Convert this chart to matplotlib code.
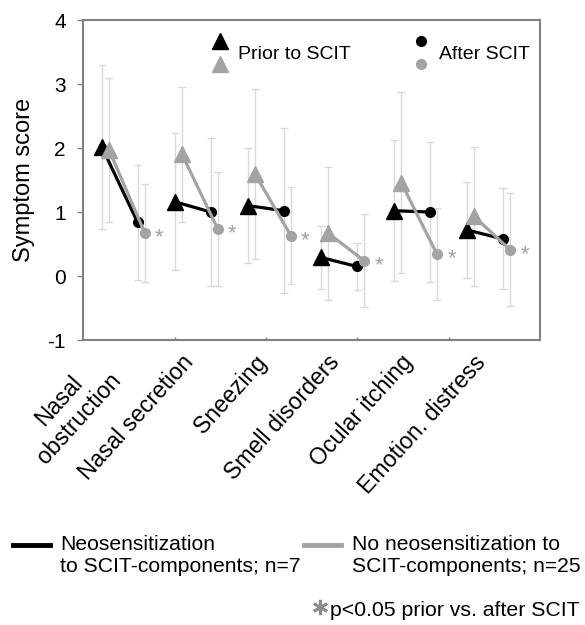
import matplotlib
matplotlib.use("Agg")
import matplotlib.pyplot as plt
import numpy as np
from matplotlib.lines import Line2D
from matplotlib.legend_handler import HandlerBase

plt.rcParams['font.family'] = ['Liberation Sans', 'DejaVu Sans']
plt.rcParams['axes.unicode_minus'] = False

categories = ["Nasal\nobstruction", "Nasal secretion", "Sneezing",
              "Smell disorders", "Ocular itching", "Emotion. distress"]

# neosensitization to SCIT components (n=7)
neo_prior = [2.02, 1.16, 1.10, 0.29, 1.02, 0.72]
neo_prior_sd = [1.28, 1.07, 0.90, 0.49, 1.10, 0.75]
neo_after = [0.84, 1.00, 1.02, 0.15, 1.00, 0.58]
neo_after_sd = [0.90, 1.15, 1.29, 0.37, 1.10, 0.79]

# no neosensitization (n=25)
non_prior = [1.97, 1.90, 1.59, 0.67, 1.46, 0.93]
non_prior_sd = [1.12, 1.05, 1.33, 1.04, 1.41, 1.08]
non_after = [0.67, 0.73, 0.63, 0.24, 0.34, 0.41]
non_after_sd = [0.77, 0.89, 0.76, 0.73, 0.72, 0.88]

significant = [True, True, True, True, True, True]

BLACK = "#000000"
GREY = "#a3a3a3"
ERR = "#d9d9d9"
SPINE = "#808080"
STAR = "#8c8c8c"


class StackedMarkers(HandlerBase):
    # two markers on top of each other, label centred between them
    def create_artists(self, legend, orig_handle, xdescent, ydescent,
                       width, height, fontsize, trans):
        top, bottom = orig_handle
        cx = width / 2 - xdescent
        cy = height / 2 - ydescent
        out = []
        for h, dy in ((top, 8), (bottom, -8)):
            m = Line2D([cx], [cy + dy], marker=h.get_marker(), ls="none",
                       color=h.get_color(), markersize=h.get_markersize(),
                       transform=trans)
            out.append(m)
        return out


class RaisedLine(HandlerBase):
    # line handle level with the first line of a two-line label
    def create_artists(self, legend, orig_handle, xdescent, ydescent,
                       width, height, fontsize, trans):
        y = height / 2 - ydescent + 8
        ln = Line2D([-xdescent, width - xdescent], [y, y],
                    color=orig_handle.get_color(),
                    lw=orig_handle.get_linewidth(), transform=trans)
        return [ln]


fig = plt.figure(figsize=(5.85, 6.25), dpi=100)
ax = fig.add_axes([0.142, 0.456, 0.781, 0.512])

x = np.arange(len(categories))
x_bt = x
x_gt = x + 0.10
x_bc = x + 0.49
x_gc = x + 0.59

# error bars first, behind everything
for xs, ys, es in ((x_bt, neo_prior, neo_prior_sd), (x_gt, non_prior, non_prior_sd),
                   (x_bc, neo_after, neo_after_sd), (x_gc, non_after, non_after_sd)):
    ax.errorbar(xs, ys, yerr=es, fmt="none", ecolor=ERR, elinewidth=1.0,
                capsize=2.8, capthick=1.0, zorder=1)

for i in range(len(categories)):
    ax.plot([x_bt[i], x_bc[i]], [neo_prior[i], neo_after[i]], color=BLACK, lw=2.3, zorder=2)
    ax.plot([x_gt[i], x_gc[i]], [non_prior[i], non_after[i]], color=GREY, lw=2.3, zorder=4)

ax.plot(x_bt, neo_prior, ls="none", marker="^", ms=11, color=BLACK, zorder=3)
ax.plot(x_bc, neo_after, ls="none", marker="o", ms=7, color=BLACK, zorder=3)
ax.plot(x_gt, non_prior, ls="none", marker="^", ms=11, color=GREY, zorder=5)
ax.plot(x_gc, non_after, ls="none", marker="o", ms=7, color=GREY, zorder=5)

for i, sig in enumerate(significant):
    if sig:
        ax.annotate("*", (x_gc[i], non_after[i]), xytext=(10.5, -3.5),
                    textcoords="offset points", color=GREY, fontsize=16,
                    ha="center", va="center")

ax.set_xlim(-0.256, 6.0)
ax.set_ylim(-1, 4)
ax.set_yticks([-1, 0, 1, 2, 3, 4])
ax.set_ylabel("Symptom score", fontsize=17, labelpad=9)
ax.tick_params(axis="y", labelsize=15, length=4, width=1, color=SPINE, pad=8.5)

ax.set_xticks(x + 0.32)
ax.set_xticklabels(categories, rotation=48, ha="right", fontsize=16.7,
                   multialignment="center")
ax.tick_params(axis="x", length=0, pad=8)
ax.set_xticks([1.0, 2.25, 3.5, 4.75], minor=True)
ax.tick_params(axis="x", which="minor", length=2, width=1, direction="in", color=SPINE)

for s in ax.spines.values():
    s.set_color(SPINE)
    s.set_linewidth(1.5)

# marker legend inside the plot
h_prior = (Line2D([], [], marker="^", color=BLACK, ms=11, ls="none"),
           Line2D([], [], marker="^", color=GREY, ms=11, ls="none"))
h_after = (Line2D([], [], marker="o", color=BLACK, ms=7, ls="none"),
           Line2D([], [], marker="o", color=GREY, ms=7, ls="none"))
ax.legend([h_prior, h_after], ["Prior to SCIT", "After SCIT"], ncol=2,
          handler_map={tuple: StackedMarkers()}, frameon=False, fontsize=14,
          loc="upper left", bbox_to_anchor=(0.278, 0.92), borderpad=0,
          borderaxespad=0, handlelength=1.0, handletextpad=0.44,
          columnspacing=3.1)

# group legend below
g_neo = Line2D([], [], color=BLACK, lw=3.5)
g_non = Line2D([], [], color=GREY, lw=3.5)
fig.legend([g_neo, g_non],
           ["Neosensitization\nto SCIT-components; n=7",
            "No neosensitization to\nSCIT-components; n=25"],
           handler_map={Line2D: RaisedLine()}, ncol=2, frameon=False,
           fontsize=15.2, loc="upper left", bbox_to_anchor=(13 / 585, 1 - 535 / 625),
           borderpad=0, borderaxespad=0, handlelength=1.75, handletextpad=0.5,
           columnspacing=0.15, labelspacing=0.2)

# footnote
fig.add_artist(Line2D([320 / 585], [1 - 607 / 625], marker=(6, 2, 0), ms=11,
                      mew=2.0, color=STAR, transform=fig.transFigure))
fig.text(330 / 585, 1 - 611 / 625, "p<0.05 prior vs. after SCIT", fontsize=15.3,
         ha="left", va="center")

fig.savefig("out.png", dpi=100)
